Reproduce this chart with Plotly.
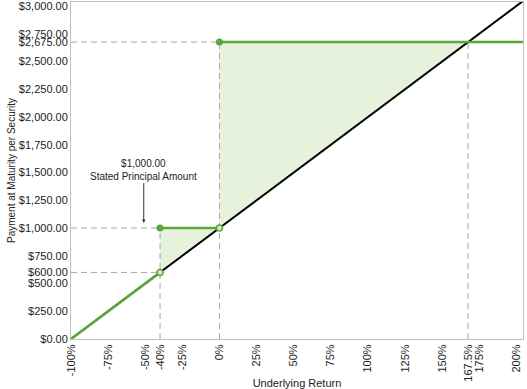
import plotly.graph_objects as go

# Data
payoff_x = [-100, -40, None, -40, 0, None, 0, 167.5, 205]
payoff_y = [0, 600, None, 1000, 1000, None, 2675, 2675, 2675]
underlying_x = [-100, 205]
underlying_y = [0, 3050]
filled_pts_x = [-40, 0]
filled_pts_y = [1000, 2675]
open_pts_x = [-40, 0]
open_pts_y = [600, 1000]
shade_x = [-40, -40, 0, 0, 167.5, -40]
shade_y = [600, 1000, 1000, 2675, 2675, 600]
ref_h_x = [-100, 0, None, -100, -40, None, -100, -40]
ref_h_y = [2675, 2675, None, 1000, 1000, None, 600, 600]
ref_v_x = [-40, -40, None, 0, 0, None, 167.5, 167.5]
ref_v_y = [0, 1000, None, 0, 2675, None, 0, 2675]

x_ticks = [-100, -75, -50, -40, -25, 0, 25, 50, 75, 100, 125, 150, 167.5, 175, 200]
x_tick_text = ["-100%", "-75%", "-50%", "-40%", "-25%", "0%", "25%", "50%", "75%",
               "100%", "125%", "150%", "167.5%", "175%", "200%"]
y_ticks = [0, 250, 500, 600, 750, 1000, 1250, 1500, 1750, 2000, 2250, 2500, 2675, 2750, 3000]
y_tick_text = ["$0.00", "$250.00", "$500.00", "$600.00", "$750.00", "$1,000.00", "$1,250.00",
               "$1,500.00", "$1,750.00", "$2,000.00", "$2,250.00", "$2,500.00", "$2,675.00",
               "$2,750.00", "$3,000.00"]

annot_text = "$1,000.00<br>Stated Principal Amount"
annot_x = -51
annot_tip_y = 1045
annot_text_y = 1525

GREEN = "#5ba83a"
FILL = "rgba(222,237,207,0.75)"
DASH = "#a6a6a6"

fig = go.Figure()
fig.add_trace(go.Scatter(x=shade_x, y=shade_y, fill="toself", fillcolor=FILL,
                         line=dict(width=0), mode="lines", hoverinfo="skip"))
fig.add_trace(go.Scatter(x=ref_h_x, y=ref_h_y, mode="lines",
                         line=dict(color=DASH, width=1, dash="6px,4px")))
fig.add_trace(go.Scatter(x=ref_v_x, y=ref_v_y, mode="lines",
                         line=dict(color=DASH, width=1, dash="6px,4px")))
fig.add_trace(go.Scatter(x=underlying_x, y=underlying_y, mode="lines",
                         line=dict(color="black", width=2)))
fig.add_trace(go.Scatter(x=payoff_x, y=payoff_y, mode="lines",
                         line=dict(color=GREEN, width=2.5)))
fig.add_trace(go.Scatter(x=filled_pts_x, y=filled_pts_y, mode="markers",
                         marker=dict(color=GREEN, size=7)))
fig.add_trace(go.Scatter(x=open_pts_x, y=open_pts_y, mode="markers",
                         marker=dict(color="#d6e9c6", size=6,
                                     line=dict(color=GREEN, width=1.5))))

fig.add_annotation(x=annot_x, y=annot_tip_y, ax=annot_x, ay=annot_text_y,
                   axref="x", ayref="y", text=annot_text, showarrow=True,
                   arrowhead=2, arrowsize=0.7, arrowwidth=1, arrowcolor="#333",
                   font=dict(family="Liberation Sans, Arial", size=10, color="#222"))

fig.update_layout(
    width=527, height=389,
    margin=dict(l=71, r=4, t=2, b=50),
    plot_bgcolor="white", paper_bgcolor="white",
    showlegend=False,
    font=dict(family="Liberation Sans, Arial", size=11, color="#222"),
)
fig.update_xaxes(range=[-100, 204.5], tickvals=x_ticks, ticktext=x_tick_text,
                 tickangle=-90, showgrid=False, zeroline=False, automargin=False,
                 ticklabeloverflow="allow",
                 showline=True, linecolor="#c0c0c0", linewidth=1, mirror=True,
                 ticks="", tickfont=dict(size=11),
                 title=dict(text="Underlying Return", font=dict(size=11), standoff=3))
fig.update_yaxes(range=[0, 3036], tickvals=y_ticks, ticktext=y_tick_text,
                 showgrid=False, zeroline=False, automargin=False,
                 ticklabeloverflow="allow",
                 showline=True, linecolor="#c0c0c0", linewidth=1, mirror=True,
                 ticks="", tickfont=dict(size=11),
                 title=dict(text="Payment at Maturity per Security", font=dict(size=10), standoff=1))

fig.write_html("out.html")
